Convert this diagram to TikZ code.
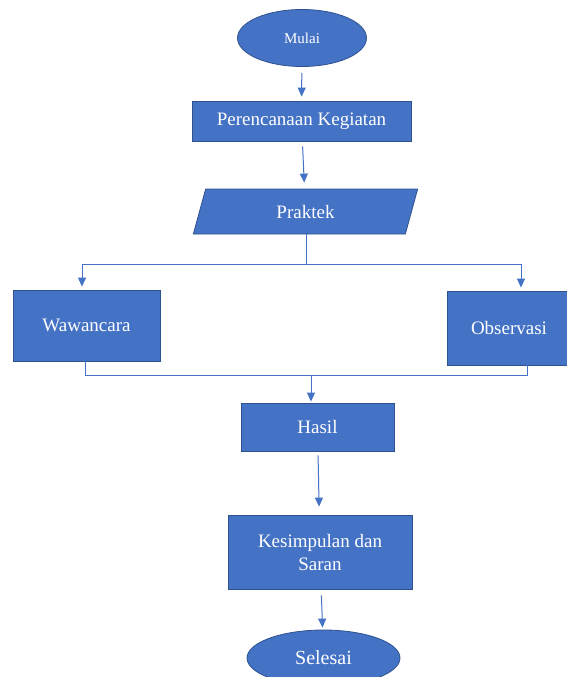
\documentclass[tikz,border=0pt]{standalone}
\usepackage{fontspec}
\setmainfont{Liberation Serif}
\usetikzlibrary{shapes.geometric,arrows.meta}
\definecolor{boxblue}{HTML}{4472C4}
\definecolor{edgeblue}{HTML}{2F528F}
\begin{document}
\begin{tikzpicture}[x=1pt,y=-1pt,
 base/.style={draw=edgeblue,fill=boxblue,line width=0.8pt,text=white,inner sep=0pt,font=\fontsize{19}{23}\selectfont},
 proc/.style={base,rectangle},
 term/.style={base,ellipse},
 io/.style={base,trapezium,trapezium left angle=75,trapezium right angle=105,trapezium stretches=true},
 line/.style={draw=boxblue,line width=1pt},
 arr/.style={line,-{Triangle[length=9pt,width=8pt]}}]
\useasboundingbox (0,0) rectangle (567,677);
\clip (0,0) rectangle (567,677);
\node[term,minimum width=129pt,minimum height=57pt,font=\fontsize{15}{18}\selectfont] (mulai) at (302,38) {Mulai};
\node[proc,minimum width=219pt,minimum height=40pt] (renc) at (301.5,121) {Perencanaan Kegiatan};
\node[io,minimum width=225pt,minimum height=45pt] (praktek) at (305.5,211.5) {Praktek};
\node[proc,minimum width=147pt,minimum height=71pt] (waw) at (86.5,325.5) {Wawancara};
\node[proc,minimum width=124pt,minimum height=74pt] (obs) at (509,328) {Observasi};
\node[proc,minimum width=153pt,minimum height=48pt] (hasil) at (317.5,427) {Hasil};
\node[proc,minimum width=184pt,minimum height=74pt,align=center] (kes) at (320,552) {Kesimpulan dan\\Saran};
\node[term,minimum width=153pt,minimum height=56pt,font=\fontsize{20}{24}\selectfont] (sel) at (323.5,658) {Selesai};
\draw[arr,shorten <=6pt,shorten >=4pt] (mulai) -- (renc);
\draw[arr,shorten <=5pt,shorten >=6pt] (renc) -- (praktek);
\coordinate (split) at (306,264);
\coordinate (lt) at (82,264);
\coordinate (rt) at (521,264);
\draw[line] (praktek.south -| split) -- (split);
\draw[line] (lt) -- (rt);
\draw[arr,shorten >=3pt] (lt) -- (lt |- waw.north);
\draw[arr,shorten >=3pt] (rt) -- (rt |- obs.north);
\coordinate (wb) at (85,375);
\coordinate (ob) at (527,375);
\coordinate (mj) at (311,375);
\draw[line] (wb |- waw.south) -- (wb) -- (ob) -- (ob |- obs.south);
\draw[arr,shorten >=1pt] (mj) -- (mj |- hasil.north);
\draw[arr,shorten <=4pt,shorten >=8pt] (hasil) -- (kes);
\draw[arr,shorten <=6pt,shorten >=2pt] (kes) -- (sel);
\end{tikzpicture}
\end{document}
